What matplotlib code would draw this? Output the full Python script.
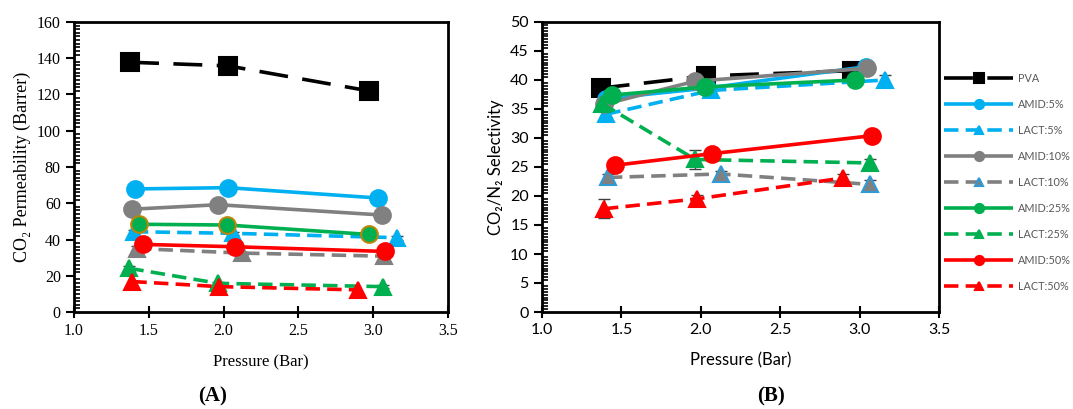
import numpy as np
import matplotlib.pyplot as plt
from matplotlib.ticker import MultipleLocator

# series labels and styles (legend order)
labels = ["PVA", "AMID:5%", "LACT:5%", "AMID:10%", "LACT:10%",
          "AMID:25%", "LACT:25%", "AMID:50%", "LACT:50%"]

# (A) CO2 permeability (Barrer) vs pressure (bar)
permA_x = {
    "PVA":      [1.375, 2.03, 2.97],
    "AMID:5%":  [1.41, 2.03, 3.03],
    "LACT:5%":  [1.40, 2.06, 3.16],
    "AMID:10%": [1.385, 1.965, 3.06],
    "LACT:10%": [1.42, 2.125, 3.07],
    "AMID:25%": [1.435, 2.02, 2.97],
    "LACT:25%": [1.37, 1.965, 3.065],
    "AMID:50%": [1.46, 2.075, 3.08],
    "LACT:50%": [1.39, 1.97, 2.90],
}
permA_y = {
    "PVA":      [137.8, 135.8, 122.0],
    "AMID:5%":  [67.9, 68.6, 62.9],
    "LACT:5%":  [44.3, 43.4, 41.0],
    "AMID:10%": [56.7, 59.2, 53.5],
    "LACT:10%": [35.0, 32.5, 30.8],
    "AMID:25%": [48.4, 48.0, 42.8],
    "LACT:25%": [24.1, 15.8, 14.0],
    "AMID:50%": [37.3, 36.0, 33.4],
    "LACT:50%": [16.8, 14.0, 12.2],
}
permA_err = {
    "LACT:10%": [1.5, 0.8, 1.2],
    "LACT:25%": [1.5, 1.0, 0.8],
    "LACT:5%":  [1.0, 0.8, 1.0],
}

# (B) CO2/N2 selectivity vs pressure (bar)
selB_x = {
    "PVA":      [1.37, 2.03, 2.95],
    "AMID:5%":  [1.40, 2.04, 3.04],
    "LACT:5%":  [1.405, 2.065, 3.16],
    "AMID:10%": [1.39, 1.965, 3.045],
    "LACT:10%": [1.415, 2.125, 3.065],
    "AMID:25%": [1.44, 2.025, 2.97],
    "LACT:25%": [1.38, 1.965, 3.065],
    "AMID:50%": [1.46, 2.07, 3.08],
    "LACT:50%": [1.39, 1.975, 2.895],
}
selB_y = {
    "PVA":      [38.6, 40.7, 41.6],
    "AMID:5%":  [36.8, 38.6, 42.3],
    "LACT:5%":  [34.1, 38.2, 40.0],
    "AMID:10%": [35.8, 39.8, 42.0],
    "LACT:10%": [23.2, 23.8, 22.0],
    "AMID:25%": [37.4, 38.8, 40.0],
    "LACT:25%": [35.9, 26.3, 25.7],
    "AMID:50%": [25.3, 27.3, 30.4],
    "LACT:50%": [17.8, 19.5, 23.1],
}
selB_err = {
    "LACT:10%": [0.6, 0.5, 0.8],
    "LACT:25%": [0.6, 1.6, 0.6],
    "LACT:50%": [1.6, 0.6, 0.7],
    "LACT:5%":  [0.5, 0.5, 0.9],
}

blue, gray, green, red = "#00B0F0", "#808080", "#00B050", "#FF0000"
styles = {
    "PVA":      dict(color="black", marker="s", ms=12.5, dashes=(8, 4)),
    "AMID:5%":  dict(color=blue, marker="o", ms=12),
    "LACT:5%":  dict(color=blue, marker="^", ms=11, dashes=(4, 2)),
    "AMID:10%": dict(color=gray, marker="o", ms=12),
    "LACT:10%": dict(color=gray, marker="^", ms=11, dashes=(4, 2)),
    "AMID:25%": dict(color=green, marker="o", ms=12),
    "LACT:25%": dict(color=green, marker="^", ms=11, dashes=(4, 2)),
    "AMID:50%": dict(color=red, marker="o", ms=12),
    "LACT:50%": dict(color=red, marker="^", ms=11, dashes=(4, 2)),
}

fig = plt.figure(figsize=(10.73, 4.09), dpi=100)
W, H = 1073, 409
axA = fig.add_axes([74 / W, 97 / H, 374 / W, 290 / H])
axB = fig.add_axes([542 / W, 97 / H, 397 / W, 290 / H])

serif = ["Liberation Serif", "DejaVu Serif"]
sans = ["Lato", "DejaVu Sans"]


def draw(ax, xs, ys, errs, edge_over):
    handles = []
    for lab in labels:
        st = dict(styles[lab])
        dashes = st.pop("dashes", None)
        mec = edge_over.get(lab, st["color"])
        line, = ax.plot(xs[lab], ys[lab], lw=2.6, color=st["color"],
                        marker=st["marker"], ms=st["ms"], mfc=st["color"],
                        mec=mec, mew=1.5, label=lab, solid_capstyle="butt")
        if dashes:
            line.set_dashes(dashes)
        if lab in errs:
            ax.errorbar(xs[lab], ys[lab], yerr=errs[lab], fmt="none",
                        ecolor="#404040", elinewidth=1, capsize=4, zorder=1)
        handles.append(line)
    return handles


draw(axA, permA_x, permA_y, permA_err, {"AMID:25%": "#B8860B"})
handles = draw(axB, selB_x, selB_y, selB_err, {"LACT:10%": "#2E9BD6"})

axA.set_ylim(0, 160)
axA.yaxis.set_major_locator(MultipleLocator(20))
axA.yaxis.set_minor_locator(MultipleLocator(2))
axB.set_ylim(0, 50)
axB.yaxis.set_major_locator(MultipleLocator(5))
axB.yaxis.set_minor_locator(MultipleLocator(0.5))

for ax, fam in [(axA, serif), (axB, sans)]:
    ax.set_xlim(1.0, 3.5)
    ax.xaxis.set_major_locator(MultipleLocator(0.5))
    ax.xaxis.set_major_formatter(plt.FormatStrFormatter("%.1f"))
    for s in ax.spines.values():
        s.set_linewidth(2)
    ax.tick_params(axis="x", direction="inout", length=8, width=1.5,
                   labelsize=11.5, pad=4)
    ax.tick_params(axis="y", which="major", direction="out", length=6,
                   width=1.5, labelsize=11.5)
    ax.tick_params(axis="y", which="minor", direction="in", length=4,
                   width=1.2)
    for t in ax.get_xticklabels() + ax.get_yticklabels():
        t.set_fontfamily(fam)
    ax.set_xlabel("Pressure (Bar)", fontsize=12, family=fam, labelpad=11)

axA.set_ylabel("CO\u2082 Permeability (Barrer)", fontsize=13, family=serif,
               labelpad=4)
axB.set_ylabel("CO\u2082/N\u2082 Selectivity", fontsize=12, family=sans,
               labelpad=4)

fig.text(213 / W, 1 - 396 / H, "(A)", ha="center", va="center",
         fontsize=15, fontweight="bold", family=serif)
fig.text(771 / W, 1 - 396 / H, "(B)", ha="center", va="center",
         fontsize=15, fontweight="bold", family=serif)

leg = fig.legend(handles=handles, loc="upper left",
                 bbox_to_anchor=(944 / W, 1 - 73 / H), frameon=False,
                 handlelength=6.4, handletextpad=0.4, labelspacing=1.38,
                 markerscale=0.55, borderaxespad=0, borderpad=0,
                 prop=dict(family=sans, size=7.8))
for t in leg.get_texts():
    t.set_color("#595959")

fig.savefig("out.png", dpi=100)
